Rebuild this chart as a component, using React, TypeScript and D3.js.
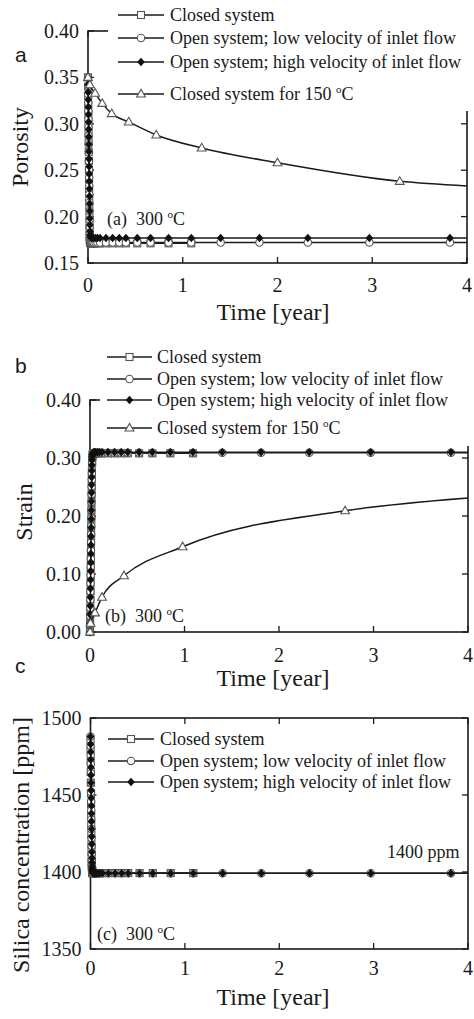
import React from 'react';
import * as d3 from 'd3';

// ---------------- data ----------------
const timeTicks = [0, 1, 2, 3, 4];
const porosityTicks = [0.15, 0.2, 0.25, 0.3, 0.35, 0.4];
const strainTicks = [0, 0.1, 0.2, 0.3, 0.4];
const silicaTicks = [1350, 1400, 1450, 1500];

const legendLabels = [
  'Closed system',
  'Open system; low velocity of inlet flow',
  'Open system; high velocity of inlet flow',
  'Closed system for 150 ',
];

// output times of the 300 °C runs (year)
const timeFast = [
  0, 0.001, 0.002, 0.003, 0.004, 0.005, 0.006, 0.007, 0.008, 0.009,
  0.010, 0.011, 0.012, 0.013, 0.014, 0.015, 0.016, 0.017, 0.018, 0.019,
  0.020, 0.022, 0.024, 0.027, 0.030, 0.035, 0.040, 0.050, 0.060, 0.080,
  0.100, 0.127, 0.19, 0.26, 0.33, 0.40, 0.52, 0.66, 0.85, 1.09,
  1.40, 1.81, 2.32, 2.97, 3.82, 4.00,
];

// (a) porosity
const porosityClosed = [
  0.350, 0.340, 0.330, 0.320, 0.310, 0.300, 0.290, 0.280, 0.270, 0.260,
  0.250, 0.240, 0.230, 0.220, 0.210, 0.200, 0.191, 0.184, 0.178, 0.175,
  0.1733, 0.1722, 0.1716, 0.1713, 0.1712, 0.1712, 0.1712, 0.1712, 0.1712, 0.1712,
  0.1712, 0.1712, 0.1712, 0.1712, 0.1712, 0.1712, 0.1712, 0.1712, 0.1712, 0.1712,
];
const porosityLow = [
  0.350, 0.341, 0.332, 0.323, 0.314, 0.305, 0.296, 0.287, 0.278, 0.269,
  0.260, 0.251, 0.242, 0.233, 0.224, 0.215, 0.206, 0.197, 0.189, 0.182,
  0.177, 0.1745, 0.1733, 0.1726, 0.1723, 0.1722, 0.172, 0.172, 0.172, 0.172,
  0.172, 0.172, 0.172, 0.172, 0.172, 0.172, 0.172, 0.172, 0.172, 0.172,
  0.172, 0.172, 0.172, 0.172, 0.172, 0.172,
];
const porosityHigh = [
  0.350, 0.342, 0.334, 0.326, 0.318, 0.310, 0.302, 0.294, 0.286, 0.278,
  0.270, 0.262, 0.254, 0.246, 0.238, 0.230, 0.222, 0.214, 0.206, 0.198,
  0.191, 0.184, 0.1805, 0.1785, 0.1778, 0.1773, 0.1772, 0.1771, 0.177, 0.177,
  0.177, 0.177, 0.177, 0.177, 0.177, 0.177, 0.177, 0.177, 0.177, 0.177,
  0.177, 0.177, 0.177, 0.177, 0.177, 0.177,
];
const time150Porosity = [0, 0.02, 0.075, 0.15, 0.25, 0.43, 0.72, 1.2, 2.0, 3.29, 4.0];
const porosity150 = [0.350, 0.342, 0.333, 0.322, 0.311, 0.302, 0.288, 0.274, 0.258, 0.238, 0.233];

// (b) strain
const strainClosed = [
  0.000, 0.014, 0.028, 0.042, 0.056, 0.070, 0.084, 0.098, 0.112, 0.126,
  0.140, 0.154, 0.168, 0.182, 0.196, 0.210, 0.224, 0.238, 0.252, 0.265,
  0.277, 0.292, 0.300, 0.305, 0.308, 0.308, 0.308, 0.308, 0.308, 0.308,
  0.308, 0.308, 0.308, 0.308, 0.308, 0.308, 0.308, 0.308, 0.308, 0.308,
];
const strainLow = [
  0.000, 0.014, 0.028, 0.042, 0.056, 0.070, 0.084, 0.098, 0.112, 0.126,
  0.140, 0.154, 0.168, 0.182, 0.196, 0.210, 0.224, 0.238, 0.251, 0.263,
  0.274, 0.290, 0.299, 0.304, 0.307, 0.308, 0.309, 0.309, 0.309, 0.309,
  0.309, 0.309, 0.309, 0.309, 0.309, 0.309, 0.309, 0.309, 0.309, 0.309,
  0.309, 0.309, 0.309, 0.309, 0.309, 0.309,
];
const strainHigh = [
  0.000, 0.015, 0.030, 0.045, 0.060, 0.075, 0.090, 0.105, 0.120, 0.135,
  0.150, 0.165, 0.180, 0.195, 0.210, 0.225, 0.240, 0.254, 0.267, 0.278,
  0.288, 0.297, 0.302, 0.306, 0.308, 0.309, 0.3095, 0.310, 0.310, 0.310,
  0.310, 0.310, 0.310, 0.310, 0.310, 0.310, 0.310, 0.310, 0.310, 0.310,
  0.310, 0.310, 0.310, 0.310, 0.310, 0.310,
];
const time150Strain = [0, 0.005, 0.053, 0.127, 0.36, 0.98, 2.7, 4.0];
const strain150 = [0.000, 0.015, 0.033, 0.060, 0.097, 0.147, 0.209, 0.231];

// (c) silica concentration (ppm)
const silicaClosed = [
  1486, 1479, 1472, 1465, 1458, 1451, 1444, 1437, 1430, 1424,
  1418, 1413, 1409, 1406, 1404, 1402.5, 1401.5, 1400.8, 1400.3, 1400,
  1399.3, 1399.3, 1399.3, 1399.3, 1399.3, 1399.3, 1399.3, 1399.3, 1399.3, 1399.3,
  1399.3, 1399.3, 1399.3, 1399.3, 1399.3, 1399.3, 1399.3, 1399.3, 1399.3, 1399.3,
];
const silicaLow = [
  1488, 1482, 1476, 1470, 1464, 1458, 1452, 1446, 1440, 1434,
  1428, 1422, 1417, 1412, 1408, 1405, 1403, 1401.5, 1400.5, 1400,
  1399.6, 1399.2, 1399.2, 1399.2, 1399.2, 1399.2, 1399.2, 1399.2, 1399.2, 1399.2,
  1399.2, 1399.2, 1399.2, 1399.2, 1399.2, 1399.2, 1399.2, 1399.2, 1399.2, 1399.2,
  1399.2, 1399.2, 1399.2, 1399.2, 1399.2, 1399.2,
];
const silicaHigh = [
  1488, 1483, 1478, 1473, 1468, 1463, 1458, 1453, 1448, 1443,
  1438, 1433, 1428, 1423, 1418, 1413, 1409, 1406, 1403.5, 1402,
  1401, 1400.3, 1399.9, 1399.6, 1399.4, 1399.3, 1399.2, 1399.2, 1399.2, 1399.2,
  1399.2, 1399.2, 1399.2, 1399.2, 1399.2, 1399.2, 1399.2, 1399.2, 1399.2, 1399.2,
  1399.2, 1399.2, 1399.2, 1399.2, 1399.2, 1399.2,
];

// ---------------- drawing ----------------
type Sym = 'square' | 'circle' | 'diamond' | 'triangle';
interface Series { sym: Sym; t: number[]; v: number[] }

const INK = '#1a1a1a';
const OPEN = '#555';
const SERIF = '"Liberation Serif", "Times New Roman", Times, serif';
const SANS = '"Liberation Sans", Arial, Helvetica, sans-serif';
const legendSyms: Sym[] = ['square', 'circle', 'diamond', 'triangle'];

function Marker({ sym, x, y }: { sym: Sym; x: number; y: number }) {
  if (sym === 'square')
    return <rect x={x - 3.5} y={y - 3.5} width={7} height={7} fill="#fff" stroke={OPEN} strokeWidth={1.1} />;
  if (sym === 'circle')
    return <circle cx={x} cy={y} r={3.7} fill="#fff" stroke={OPEN} strokeWidth={1.1} />;
  if (sym === 'diamond')
    return <path d={`M${x},${y - 4.3}L${x + 3.8},${y}L${x},${y + 4.3}L${x - 3.8},${y}Z`} fill="#111" />;
  return <path d={`M${x},${y - 4.6}L${x + 4.4},${y + 3}L${x - 4.4},${y + 3}Z`} fill="#fff" stroke={OPEN} strokeWidth={1.1} />;
}

function Deg() {
  return (
    <>
      <tspan fontSize={11} dy={-7}>o</tspan>
      <tspan dy={7}>C</tspan>
    </>
  );
}

interface PanelProps {
  x0: number; x1: number; yTop: number; yBot: number;
  yDomain: [number, number]; yTicks: number[]; yFmt: (v: number) => string;
  series: Series[];
  legendRows: number[]; legendLine: [number, number]; legendTextX: number;
  legendBg?: { x: number; y: number; w: number; h: number };
  xTickBase: number; xTitleBase: number;
  yTitle: string; yTitleX: number; yTitleY: number;
  letter: string; letterX: number; letterY: number;
  tag: string; tagX: number; tagY: number;
  stub?: number;
  extra?: React.ReactNode;
}

function Panel(p: PanelProps) {
  const x = d3.scaleLinear().domain([0, 4]).range([p.x0, p.x1]);
  const y = d3.scaleLinear().domain(p.yDomain).range([p.yBot, p.yTop]);
  const line = d3.line<[number, number]>().x(d => x(d[0])).y(d => y(d[1])).curve(d3.curveMonotoneX);
  const tl = 6;
  return (
    <g>
      {/* frame */}
      <rect x={p.x0} y={p.yTop} width={p.x1 - p.x0} height={p.yBot - p.yTop} fill="none" stroke={INK} strokeWidth={1.6} />
      {timeTicks.map(t => (
        <g key={'xt' + t}>
          <line x1={x(t)} x2={x(t)} y1={p.yBot} y2={p.yBot - tl} stroke={INK} strokeWidth={1.3} />
          <line x1={x(t)} x2={x(t)} y1={p.yTop} y2={p.yTop + tl} stroke={INK} strokeWidth={1.3} />
        </g>
      ))}
      {p.yTicks.map(v => (
        <g key={'yt' + v}>
          <line x1={p.x0} x2={p.x0 + tl} y1={y(v)} y2={y(v)} stroke={INK} strokeWidth={1.3} />
          <line x1={p.x1} x2={p.x1 - tl} y1={y(v)} y2={y(v)} stroke={INK} strokeWidth={1.3} />
        </g>
      ))}
      {p.legendBg && (
        <rect x={p.legendBg.x} y={p.legendBg.y} width={p.legendBg.w} height={p.legendBg.h} fill="#fff" />
      )}
      {/* data */}
      {p.series.map((s, si) => {
        const pts = s.t.map((t, i) => [t, s.v[i]] as [number, number]);
        return (
          <g key={'s' + si}>
            <path d={line(pts) || ''} fill="none" stroke={INK} strokeWidth={1.5} />
            {pts.filter(d => d[0] < 3.95).map((d, i) => (
              <Marker key={i} sym={s.sym} x={x(d[0])} y={y(d[1])} />
            ))}
          </g>
        );
      })}
      {/* legend */}
      {p.legendRows.map((ry, i) => (
        <g key={'lg' + i}>
          <line x1={p.legendLine[0]} x2={p.legendLine[1]} y1={ry} y2={ry} stroke={INK} strokeWidth={1.5} />
          <Marker sym={legendSyms[i]} x={(p.legendLine[0] + p.legendLine[1]) / 2} y={ry} />
          <text x={p.legendTextX} y={ry + 6} fontSize={18} fontFamily={SERIF} fill={INK}>
            {legendLabels[i]}
            {i === 3 && <Deg />}
          </text>
        </g>
      ))}
      {/* tick labels */}
      {timeTicks.map(t => (
        <text key={'xl' + t} x={x(t)} y={p.xTickBase} textAnchor="middle" fontSize={20} fontFamily={SERIF} fill={INK}>
          {t}
        </text>
      ))}
      {p.yTicks.map(v => (
        <text key={'yl' + v} x={p.x0 - 9} y={y(v) + 7} textAnchor="end" fontSize={20} fontFamily={SERIF} fill={INK}>
          {p.yFmt(v)}
        </text>
      ))}
      <text x={273} y={p.xTitleBase} textAnchor="middle" fontSize={24} fontFamily={SERIF} fill={INK}>
        Time [year]
      </text>
      <text
        transform={`translate(${p.yTitleX},${p.yTitleY}) rotate(-90)`}
        textAnchor="middle" fontSize={24} fontFamily={SERIF} fill={INK}
      >
        {p.yTitle}
      </text>
      <text x={p.letterX} y={p.letterY} fontSize={21} fontFamily={SANS} fill={INK}>
        {p.letter}
      </text>
      <text x={p.tagX} y={p.tagY} fontSize={18} fontFamily={SERIF} fill={INK}>
        {p.tag}
        {'\u00A0\u00A0300 '}
        <Deg />
      </text>
      {p.extra}
    </g>
  );
}

export default function App() {
  const seriesA: Series[] = [
    { sym: 'square', t: timeFast.slice(0, porosityClosed.length), v: porosityClosed },
    { sym: 'circle', t: timeFast, v: porosityLow },
    { sym: 'diamond', t: timeFast, v: porosityHigh },
    { sym: 'triangle', t: time150Porosity, v: porosity150 },
  ];
  const seriesB: Series[] = [
    { sym: 'square', t: timeFast.slice(0, strainClosed.length), v: strainClosed },
    { sym: 'circle', t: timeFast, v: strainLow },
    { sym: 'diamond', t: timeFast, v: strainHigh },
    { sym: 'triangle', t: time150Strain, v: strain150 },
  ];
  const seriesC: Series[] = [
    { sym: 'square', t: timeFast.slice(0, silicaClosed.length), v: silicaClosed },
    { sym: 'circle', t: timeFast, v: silicaLow },
    { sym: 'diamond', t: timeFast, v: silicaHigh },
  ];
  const f2 = (v: number) => v.toFixed(2);
  return (
    <svg width={474} height={1019} style={{ position: 'absolute', left: 0, top: 0, display: 'block' }}>
      <rect x={0} y={0} width={474} height={1019} fill="#fff" />
      <Panel
        x0={88} x1={467} yTop={31} yBot={263}
        yDomain={[0.15, 0.4]} yTicks={porosityTicks} yFmt={f2}
        series={seriesA}
        legendRows={[15, 38, 62, 94]} legendLine={[118, 164]} legendTextX={170}
        legendBg={{ x: 108, y: 0, w: 366, h: 111 }}
        xTickBase={292} xTitleBase={320}
        yTitle="Porosity" yTitleX={28} yTitleY={147}
        letter="a" letterX={15} letterY={62}
        tag="(a)" tagX={107} tagY={225}
      />
      <Panel
        x0={90} x1={468} yTop={400} yBot={632}
        yDomain={[0, 0.4]} yTicks={strainTicks} yFmt={f2}
        series={seriesB}
        legendRows={[357, 379, 400, 428]} legendLine={[107, 152]} legendTextX={157}
        legendBg={{ x: 100, y: 340, w: 374, h: 106 }}
        xTickBase={662} xTitleBase={686}
        yTitle="Strain" yTitleX={32} yTitleY={512}
        letter="b" letterX={15} letterY={373}
        tag="(b)" tagX={105} tagY={622}
      />
      <Panel
        x0={90.5} x1={468} yTop={718} yBot={949}
        yDomain={[1350, 1500]} yTicks={silicaTicks} yFmt={v => String(v)}
        series={seriesC}
        legendRows={[739, 761, 782]} legendLine={[108, 154]} legendTextX={160}
        xTickBase={975} xTitleBase={1005}
        yTitle="Silica concentration [ppm]" yTitleX={29} yTitleY={845}
        letter="c" letterX={15} letterY={673}
        tag="(c)" tagX={97} tagY={940}
        extra={
          <text x={387} y={858} fontSize={18} fontFamily={SERIF} fill={INK}>
            1400 ppm
          </text>
        }
      />
    </svg>
  );
}
